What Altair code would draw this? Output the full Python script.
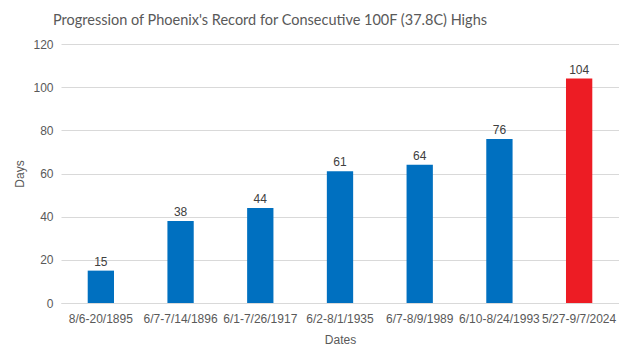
import altair as alt
import pandas as pd

dates = ["8/6-20/1895", "6/7-7/14/1896", "6/1-7/26/1917", "6/2-8/1/1935",
         "6/7-8/9/1989", "6/10-8/24/1993", "5/27-9/7/2024"]
days = [15, 38, 44, 61, 64, 76, 104]
colors = ["#0070C0"] * 6 + ["#ED1C24"]

df = pd.DataFrame({"Dates": dates, "Days": days, "color": colors})

x = alt.X("Dates:N", sort=dates, title="Dates",
          scale=alt.Scale(paddingInner=0.67, paddingOuter=0.335),
          axis=alt.Axis(labelAngle=0, ticks=False, domainColor="#d9d9d9",
                        labelColor="#595959", labelFont="Liberation Sans",
                        labelFontSize=12, labelPadding=10,
                        titleColor="#595959", titleFont="Liberation Sans",
                        titleFontSize=12, titleFontWeight="normal", titlePadding=10))

bars = alt.Chart(df).mark_bar().encode(
    x=x,
    y=alt.Y("Days:Q", title="Days", scale=alt.Scale(domain=[0, 120]),
            axis=alt.Axis(values=[0, 20, 40, 60, 80, 100, 120], ticks=False,
                          domain=False, gridColor="#d9d9d9",
                          labelColor="#595959", labelFont="Liberation Sans",
                          labelFontSize=12, labelPadding=8,
                          titleColor="#595959", titleFont="Liberation Sans",
                          titleFontSize=12, titleFontWeight="normal", titlePadding=6)),
    color=alt.Color("color:N", scale=None),
)

labels = alt.Chart(df).mark_text(dy=-9, fontSize=12, font="Liberation Sans",
                                 color="#404040").encode(
    x=alt.X("Dates:N", sort=dates),
    y="Days:Q",
    text="Days:Q",
)

chart = (bars + labels).properties(
    width=558, height=259,
    title=alt.TitleParams("Progression of Phoenix's Record for Consecutive 100F (37.8C) Highs",
                          anchor="start", frame="group", dx=-8, offset=10, fontSize=14.5,
                          font="Lato", fontWeight="normal",
                          color="#595959"),
    padding={"left": 5, "top": 4, "right": 0, "bottom": 5},
).configure_view(stroke=None)

chart.save("out.html", embed_options={"renderer": "svg", "actions": False})
